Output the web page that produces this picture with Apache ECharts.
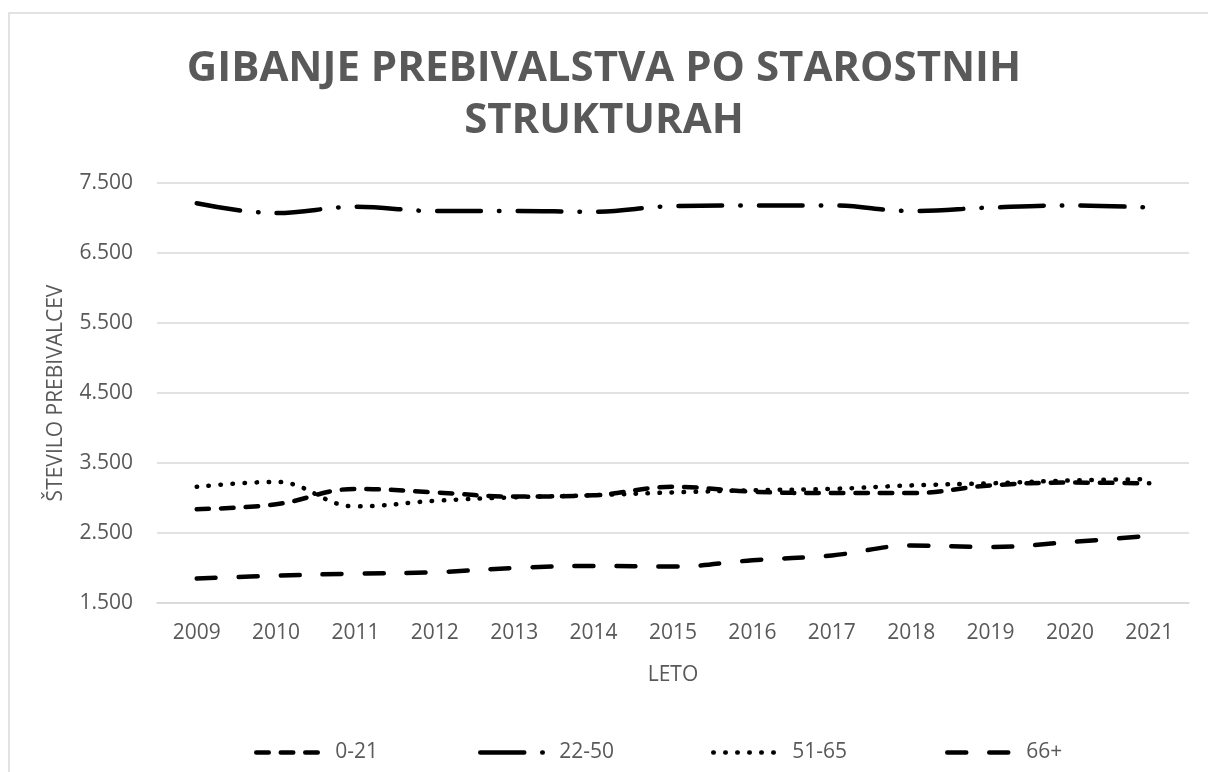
<!DOCTYPE html>
<html>
<head>
<meta charset="utf-8">
<style>
  html, body { margin: 0; padding: 0; background: #fff; }
  #chart { width: 1208px; height: 772px; }
</style>
<script src="https://cdn.jsdelivr.net/npm/echarts@6/dist/echarts.min.js"></script>
</head>
<body>
<div id="chart"></div>
<script>
// podatki
var years = ['2009', '2010', '2011', '2012', '2013', '2014', '2015', '2016', '2017', '2018', '2019', '2020', '2021'];
var age0to21 = [2840, 2910, 3130, 3080, 3020, 3040, 3160, 3090, 3070, 3070, 3180, 3220, 3210];
var age22to50 = [7210, 7070, 7160, 7100, 7100, 7090, 7170, 7180, 7180, 7100, 7150, 7180, 7150];
var age51to65 = [3160, 3230, 2880, 2960, 3010, 3040, 3080, 3110, 3130, 3180, 3210, 3250, 3270];
var age66plus = [1850, 1890, 1920, 1940, 2000, 2030, 2020, 2110, 2180, 2320, 2300, 2370, 2460];
var seriesNames = ['0-21', '22-50', '51-65', '66+'];
var yTicks = { min: 1500, max: 7500, step: 1000 };

var chart = echarts.init(document.getElementById('chart'));
var gray = '#595959';
var font = '"Open Sans", sans-serif';

// skupni slog črte
function lineSeries(name, data, dash) {
    return {
        name: name,
        type: 'line',
        data: data,
        smooth: 0.4,
        symbol: 'none',
        itemStyle: { color: '#000' },
        lineStyle: {
            color: '#000',
            width: 4.5,
            type: dash,
            cap: 'round',
            join: 'round'
        }
    };
}

// ena legenda na serijo, da je razmik enak kot v Excelu
var legendLeft = [249, 473, 706, 940];
var legends = seriesNames.map(function (name, i) {
    return {
        data: [name],
        left: legendLeft[i],
        top: 737,
        itemWidth: 66,
        itemHeight: 14,
        itemGap: 0,
        itemStyle: { opacity: 0 },
        lineStyle: { width: 4.5, cap: 'round' },
        textStyle: {
            fontFamily: font,
            fontSize: 21,
            color: gray,
            padding: [0, 0, 0, 8]
        }
    };
});

var option = {
    animation: false,
    backgroundColor: '#fff',
    color: ['#000', '#000', '#000', '#000'],
    textStyle: { fontFamily: font },
    title: {
        text: 'GIBANJE PREBIVALSTVA PO STAROSTNIH\nSTRUKTURAH',
        left: 'center',
        top: 38,
        textStyle: {
            fontFamily: font,
            fontSize: 42,
            fontWeight: 'bold',
            color: gray,
            lineHeight: 52
        }
    },
    graphic: [{
        type: 'rect',
        shape: { x: 9, y: 13, width: 1400, height: 900 },
        style: { fill: null, stroke: '#d9d9d9', lineWidth: 1.5 },
        silent: true
    }, {
        // naslov osi y (ime osi ECharts 6 odrine predaleč)
        type: 'text',
        x: 56,
        y: 393,
        rotation: Math.PI / 2,
        style: {
            text: 'ŠTEVILO PREBIVALCEV',
            fontFamily: font,
            fontSize: 21,
            fill: gray,
            align: 'center',
            verticalAlign: 'middle'
        },
        silent: true
    }],
    legend: legends,
    grid: {
        left: 157,
        right: 19,
        top: 183,
        bottom: 169
    },
    xAxis: {
        type: 'category',
        data: years,
        boundaryGap: true,
        name: 'LETO',
        nameLocation: 'middle',
        nameGap: 62,
        nameTextStyle: { fontFamily: font, fontSize: 21, color: gray },
        axisLine: { lineStyle: { color: '#d9d9d9', width: 1.5 } },
        axisTick: { show: false },
        axisLabel: { fontFamily: font, fontSize: 21, color: gray, margin: 20 }
    },
    yAxis: {
        type: 'value',
        min: yTicks.min,
        max: yTicks.max,
        interval: yTicks.step,
        axisLine: { show: false },
        axisTick: { show: false },
        splitLine: { lineStyle: { color: '#d9d9d9', width: 1.5 } },
        axisLabel: {
            fontFamily: font,
            fontSize: 21,
            color: gray,
            margin: 24,
            formatter: function (v) {
                return String(v).replace(/\B(?=(\d{3})+(?!\d))/g, '.');
            }
        }
    },
    series: [
        lineSeries(seriesNames[0], age0to21, [12.5, 12]),
        lineSeries(seriesNames[1], age22to50, [44, 18, 0.5, 18]),
        lineSeries(seriesNames[2], age51to65, [0.5, 11.5]),
        lineSeries(seriesNames[3], age66plus, [19, 23])
    ]
};

chart.setOption(option);
</script>
</body>
</html>
